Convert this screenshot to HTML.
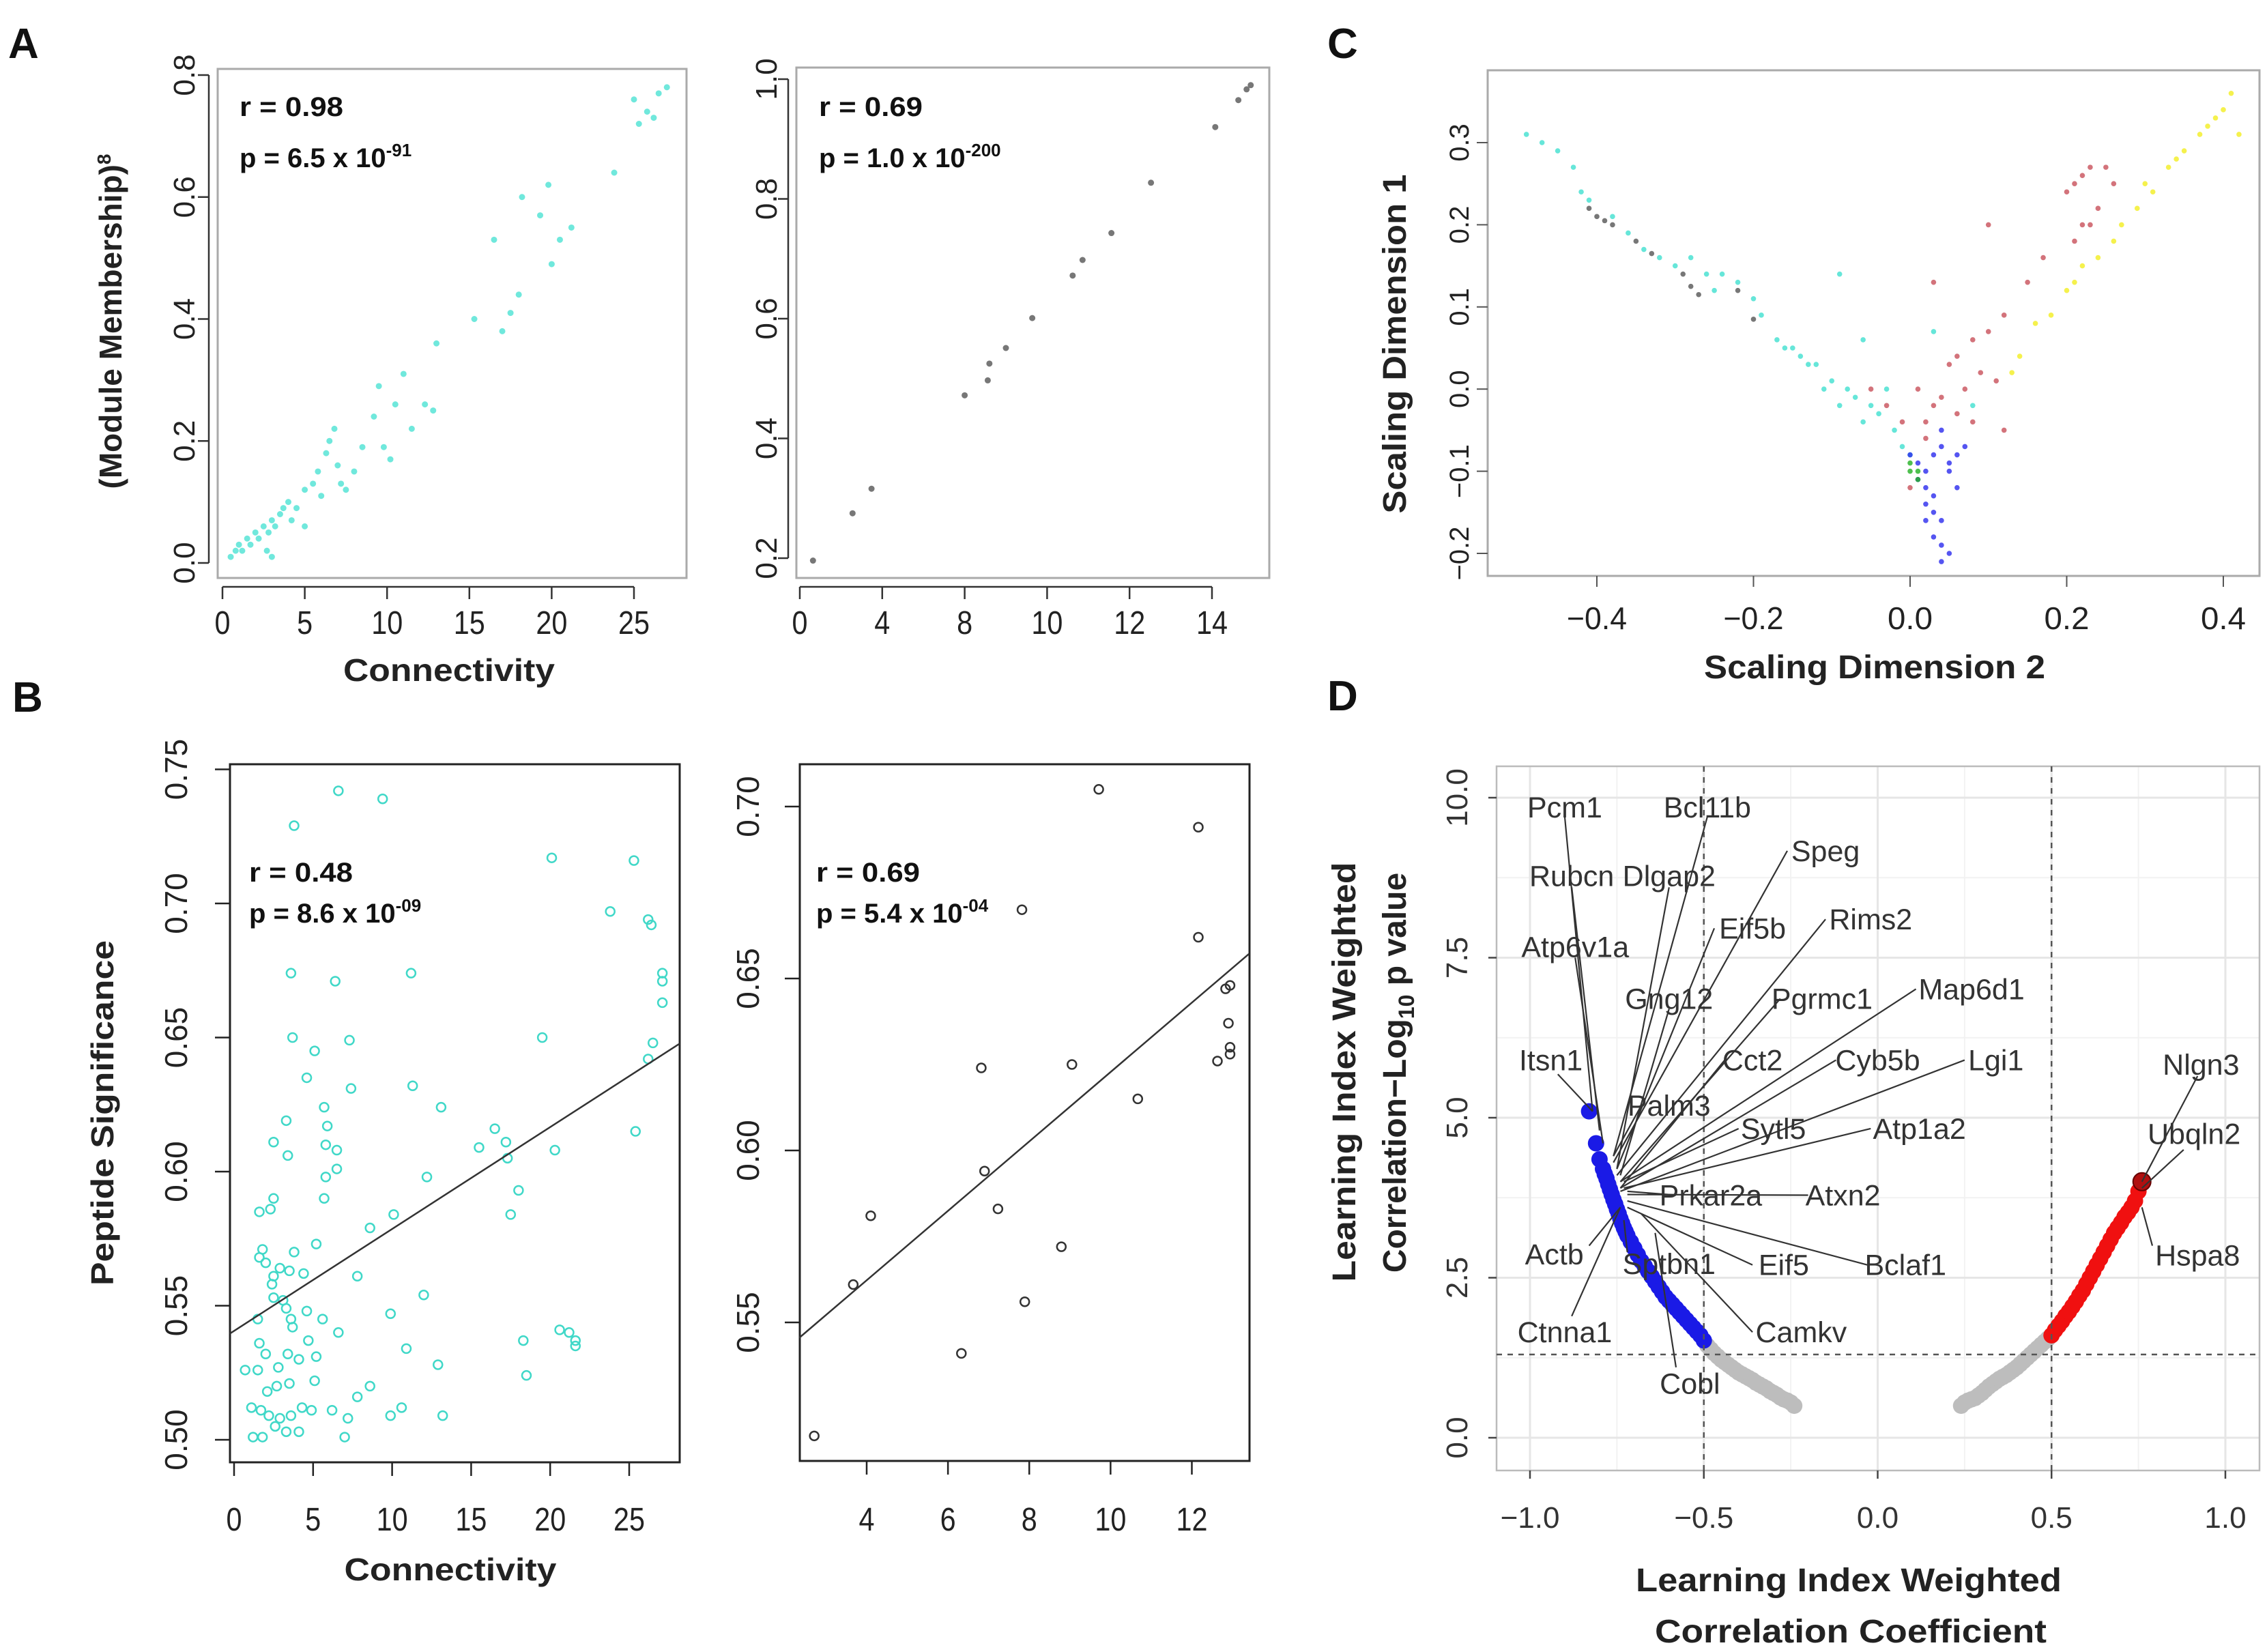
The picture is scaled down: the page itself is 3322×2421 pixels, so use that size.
<!DOCTYPE html>
<html><head><meta charset="utf-8"><style>
html,body{margin:0;padding:0;background:#fff}
svg{display:block}
text{font-family:"Liberation Sans",sans-serif}
</style></head><body>
<svg id="fig" width="3322" height="2421" viewBox="0 0 3322 2421" xmlns="http://www.w3.org/2000/svg">
<rect width="3322" height="2421" fill="#fff"/>
<g id="root"></g>
</svg>
<script>
// ---------- Panel A left ----------
const aLeftX=[0.5,0.8,1.0,1.2,1.5,1.7,2.0,2.2,2.5,2.8,3.0,3.2,3.5,3.7,4.0,3.0,2.7,4.2,4.5,5.0,5.0,5.5,5.8,6.0,6.3,6.5,6.8,7.0,7.2,7.5,8.0,8.5,9.2,9.5,9.8,10.2,10.5,11.0,11.5,12.3,12.8,13.0,15.3,16.5,17.0,17.5,18.0,18.2,19.3,19.8,20.0,20.5,21.2,23.8,25.0,25.3,25.8,26.5,27.0,26.2];
const aLeftY=[0.01,0.02,0.03,0.02,0.04,0.03,0.05,0.04,0.06,0.05,0.07,0.06,0.08,0.09,0.10,0.01,0.02,0.07,0.09,0.06,0.12,0.13,0.15,0.11,0.18,0.20,0.22,0.16,0.13,0.12,0.15,0.19,0.24,0.29,0.19,0.17,0.26,0.31,0.22,0.26,0.25,0.36,0.40,0.53,0.38,0.41,0.44,0.60,0.57,0.62,0.49,0.53,0.55,0.64,0.76,0.72,0.74,0.77,0.78,0.73];
const aLeftXTicks=[0,5,10,15,20,25];
const aLeftYTicks=[0.0,0.2,0.4,0.6,0.8];
// ---------- Panel A right ----------
const aRightX=[0.16,0.64,0.87,2.0,2.28,2.30,2.5,2.82,3.31,3.43,3.78,4.26,5.04,5.32,5.42,5.47];
const aRightY=[0.196,0.275,0.316,0.472,0.497,0.525,0.551,0.601,0.672,0.698,0.743,0.827,0.920,0.965,0.983,0.99];
const aRightXTickLabels=["0","4","8","10","12","14"];
const aRightYTicks=[0.2,0.4,0.6,0.8,1.0];
// ---------- Panel B left ----------
const bLeftX=[6.6,9.4,3.8,20.1,25.3,23.8,26.2,26.4,3.6,6.4,11.2,27.1,27.1,27.1,3.7,7.3,19.5,26.5,5.1,26.2,4.6,7.4,11.3,13.1,5.7,3.3,5.9,16.5,25.4,2.5,5.8,6.5,15.5,17.2,17.3,3.4,20.3,6.5,5.8,12.2,18.0,5.7,2.5,2.3,1.6,10.1,17.5,8.6,3.8,5.2,1.8,1.6,2.0,2.9,2.5,3.5,4.4,7.8,2.4,2.5,3.1,3.3,3.6,3.7,4.6,5.6,1.5,6.6,4.7,1.6,12.0,9.9,20.6,21.2,21.6,21.6,18.3,10.9,3.4,2.0,5.2,4.1,2.8,0.7,1.5,12.9,5.1,2.7,8.6,7.8,18.5,3.5,2.1,1.1,1.7,2.2,2.9,3.6,4.3,4.9,6.2,7.2,9.9,10.6,13.2,3.3,4.1,1.2,1.8,7.0,2.6];
const bLeftY=[.742,.739,.729,.717,.716,.697,.694,.692,.674,.671,.674,.674,.671,.663,.650,.649,.650,.648,.645,.642,.635,.631,.632,.624,.624,.619,.617,.616,.615,.611,.610,.608,.609,.611,.605,.606,.608,.601,.598,.598,.593,.590,.590,.586,.585,.584,.584,.579,.570,.573,.571,.568,.566,.564,.561,.563,.562,.561,.558,.553,.552,.549,.545,.542,.548,.545,.545,.540,.537,.536,.554,.547,.541,.540,.537,.535,.537,.534,.532,.532,.531,.530,.527,.526,.526,.528,.522,.520,.520,.516,.524,.521,.518,.512,.511,.509,.508,.509,.512,.511,.511,.508,.509,.512,.509,.503,.503,.501,.501,.501,.505];
const bLeftFit=[0.5406,0.0038];
const bLeftXTicks=[0,5,10,15,20,25];
const bLeftYTicks=[0.50,0.55,0.60,0.65,0.70,0.75];
// ---------- Panel B right ----------
const bRightX=[2.71,3.67,4.10,6.33,6.82,6.90,7.23,7.89,7.82,8.79,9.05,9.71,10.67,12.16,12.16,12.63,12.83,12.94,12.90,12.94,12.94];
const bRightY=[0.517,0.561,0.581,0.541,0.624,0.594,0.583,0.556,0.670,0.572,0.625,0.705,0.615,0.694,0.662,0.626,0.647,0.648,0.637,0.630,0.628];
const bRightFit=[0.5219,0.01009];
const bRightXTicks=[4,6,8,10,12];
const bRightYTicks=[0.55,0.60,0.65,0.70];
// ---------- Panel C ----------
const cCyanX=[-0.49,-0.47,-0.45,-0.43,-0.42,-0.41,-0.38,-0.36,-0.34,-0.32,-0.30,-0.28,-0.26,-0.25,-0.22,-0.20,-0.19,-0.17,-0.16,-0.14,-0.12,-0.10,-0.09,-0.08,-0.07,-0.06,-0.05,-0.04,-0.03,-0.02,-0.01,0.0,-0.06,0.03,0.08,-0.09,-0.11,-0.13,-0.15,-0.24];
const cCyanY=[0.31,0.30,0.29,0.27,0.24,0.23,0.21,0.19,0.17,0.16,0.15,0.16,0.14,0.12,0.13,0.11,0.09,0.06,0.05,0.04,0.03,0.01,0.14,0.0,-0.01,0.06,-0.02,-0.03,0.0,-0.05,-0.07,-0.08,-0.04,0.07,-0.02,-0.02,0.0,0.03,0.05,0.14];
const cGrayX=[-0.41,-0.40,-0.39,-0.38,-0.35,-0.33,-0.29,-0.28,-0.27,-0.22,-0.20];
const cGrayY=[0.22,0.21,0.205,0.20,0.18,0.165,0.14,0.125,0.115,0.12,0.085];
const cRedX=[0.2,0.21,0.22,0.23,0.25,0.26,0.24,0.22,0.21,0.23,0.10,0.03,0.12,0.1,0.08,0.06,0.05,0.09,0.11,0.07,0.04,0.03,0.02,-0.01,-0.03,-0.05,0.06,0.08,0.01,0.0,0.15,0.17,0.12,0.02];
const cRedY=[0.24,0.25,0.26,0.27,0.27,0.25,0.22,0.20,0.18,0.20,0.20,0.13,0.09,0.07,0.06,0.04,0.03,0.02,0.01,0.0,-0.01,-0.02,-0.04,-0.04,-0.02,0.0,-0.03,-0.04,0.0,-0.12,0.13,0.16,-0.05,-0.06];
const cYellowX=[0.41,0.40,0.39,0.38,0.37,0.35,0.34,0.33,0.31,0.29,0.27,0.26,0.24,0.22,0.21,0.20,0.18,0.16,0.14,0.13,0.42,0.30];
const cYellowY=[0.36,0.34,0.33,0.32,0.31,0.29,0.28,0.27,0.24,0.22,0.20,0.18,0.16,0.15,0.13,0.12,0.09,0.08,0.04,0.02,0.31,0.25];
const cBlueX=[0.0,0.01,0.02,0.03,0.04,0.05,0.06,0.07,0.04,0.02,0.03,0.02,0.03,0.04,0.03,0.04,0.05,0.04,0.06,0.05,0.01,0.02];
const cBlueY=[-0.08,-0.09,-0.1,-0.08,-0.07,-0.09,-0.08,-0.07,-0.05,-0.12,-0.13,-0.14,-0.15,-0.16,-0.18,-0.19,-0.2,-0.21,-0.12,-0.1,-0.11,-0.16];
const cGreenX=[0.01,0.0,0.01,0.0];
const cGreenY=[-0.1,-0.09,-0.11,-0.1];
const cXTicks=[-0.4,-0.2,0.0,0.2,0.4];
const cYTicks=[-0.2,-0.1,0.0,0.1,0.2,0.3];
// ---------- Panel D ----------
const dLeftR=[-0.24,-0.25,-0.26,-0.27,-0.28,-0.29,-0.30,-0.31,-0.32,-0.33,-0.34,-0.35,-0.36,-0.37,-0.38,-0.39,-0.40,-0.41,-0.42,-0.43,-0.44,-0.45,-0.46,-0.47,-0.48,-0.49,-0.50,-0.51,-0.52,-0.53,-0.54,-0.55,-0.56,-0.57,-0.58,-0.59,-0.60,-0.61,-0.62,-0.63,-0.64,-0.65,-0.66,-0.67,-0.68,-0.69,-0.70,-0.71,-0.72,-0.725,-0.73,-0.735,-0.74,-0.745,-0.75,-0.755,-0.76,-0.765,-0.77,-0.775,-0.78,-0.785,-0.79,-0.80,-0.81,-0.83];
const dLeftP=[0.5,0.55,0.58,0.6,0.63,0.67,0.7,0.73,0.77,0.8,0.83,0.86,0.9,0.93,0.96,0.99,1.02,1.06,1.1,1.14,1.18,1.22,1.27,1.32,1.38,1.44,1.52,1.6,1.66,1.72,1.78,1.84,1.9,1.96,2.02,2.08,2.14,2.2,2.28,2.36,2.44,2.52,2.6,2.68,2.76,2.86,2.96,3.06,3.16,3.22,3.28,3.35,3.42,3.5,3.57,3.65,3.72,3.8,3.88,3.96,4.05,4.12,4.2,4.35,4.6,5.1];
const dRightR=[0.24,0.25,0.26,0.27,0.28,0.29,0.30,0.31,0.32,0.33,0.34,0.35,0.36,0.37,0.38,0.39,0.40,0.41,0.42,0.43,0.44,0.45,0.46,0.47,0.48,0.49,0.50,0.51,0.52,0.53,0.54,0.55,0.56,0.57,0.58,0.59,0.60,0.61,0.62,0.63,0.64,0.65,0.66,0.67,0.68,0.69,0.70,0.71,0.72,0.73,0.74,0.75,0.76];
const dRightP=[0.5,0.55,0.58,0.6,0.62,0.66,0.7,0.75,0.8,0.84,0.88,0.92,0.95,0.98,1.02,1.06,1.1,1.15,1.2,1.25,1.3,1.35,1.4,1.45,1.5,1.55,1.6,1.68,1.75,1.82,1.9,1.97,2.05,2.13,2.22,2.3,2.4,2.5,2.6,2.7,2.8,2.9,3.0,3.1,3.2,3.28,3.36,3.45,3.52,3.6,3.7,3.85,4.0];
const dXTicks=[-1.0,-0.5,0.0,0.5,1.0];
const dYTicks=[0.0,2.5,5.0,7.5,10.0];
const dYTickLabels=["0.0","2.5","5.0","7.5","10.0"];
const dRThresh=[-0.5,0.5];
const dPThresh=[1.3];
const dLabelNames=["Pcm1","Bcl11b","Speg","Rubcn","Dlgap2","Eif5b","Rims2","Atp6v1a","Gng12","Pgrmc1","Map6d1","Itsn1","Cct2","Cyb5b","Lgi1","Palm3","Sytl5","Atp1a2","Prkar2a","Atxn2","Actb","Sptbn1","Eif5","Bclaf1","Ctnna1","Camkv","Cobl","Nlgn3","Ubqln2","Hspa8"];
const dLabelR=[-0.90,-0.49,-0.15,-0.88,-0.60,-0.36,-0.02,-0.87,-0.60,-0.16,0.27,-0.94,-0.36,0.00,0.34,-0.60,-0.30,0.12,-0.48,-0.10,-0.93,-0.60,-0.27,0.08,-0.90,-0.22,-0.54,0.93,0.91,0.92];
const dLabelP=[9.85,9.85,9.17,8.78,8.78,7.96,8.10,7.67,6.86,6.86,7.01,5.90,5.90,5.90,5.90,5.19,4.83,4.83,3.79,3.79,2.87,2.72,2.70,2.70,1.65,1.65,0.85,5.83,4.75,2.85];
const dLabelLineFromR=[-0.90,-0.49,-0.26,-0.88,-0.60,-0.47,-0.15,-0.87,-0.60,-0.28,0.11,-0.92,-0.44,-0.12,0.25,-0.68,-0.40,-0.02,-0.58,-0.20,-0.83,-0.72,-0.36,-0.03,-0.88,-0.36,-0.58,0.92,0.88,0.79];
const dLabelLineFromP=[9.70,9.70,9.17,8.60,8.60,7.96,8.10,7.50,6.70,6.86,7.01,5.68,5.90,5.90,5.90,5.19,4.83,4.83,3.79,3.79,3.00,2.90,2.70,2.70,1.90,1.65,1.10,5.65,4.50,3.00];
const dLabelLineToR=[-0.82,-0.76,-0.76,-0.80,-0.75,-0.75,-0.75,-0.79,-0.74,-0.74,-0.74,-0.82,-0.74,-0.74,-0.74,-0.76,-0.73,-0.73,-0.72,-0.72,-0.74,-0.73,-0.72,-0.72,-0.74,-0.68,-0.64,0.76,0.76,0.76];
const dLabelLineToP=[5.1,4.4,4.3,4.8,4.2,4.2,4.1,4.6,4.1,4.0,4.0,5.1,3.9,3.9,3.85,4.4,4.0,3.9,3.85,3.8,3.6,3.4,3.6,3.7,3.6,3.5,3.2,4.0,3.9,3.6];

const NS="http://www.w3.org/2000/svg";
const root=document.getElementById('root');
function mk(tag,attrs,parent){const e=document.createElementNS(NS,tag);for(const k in attrs)e.setAttribute(k,attrs[k]);(parent||root).appendChild(e);return e;}
function txt(s,attrs,parent){const e=mk('text',attrs,parent);e.textContent=s;return e;}
function lin(d0,d1,r0,r1){return v=>r0+(v-d0)*(r1-r0)/(d1-d0);}

[["A",12,85],["B",18,1043],["C",1945,85],["D",1945,1041]].forEach(p=>{
  const t=txt(p[0],{x:p[1],y:p[2],'font-size':62,'font-weight':'bold',fill:'#111'});
  
  
});

function rotText(s,x,y,size,attrs,parent){
  const a=Object.assign({x:0,y:0,'font-size':size,'text-anchor':'middle',fill:'#222',transform:`translate(${x},${y}) rotate(-90)`},attrs||{});
  return txt(s,a,parent);
}
function statText(g,x,y1,y2,rStr,pMant,pExp){
  const t1=txt(rStr,{x:x,y:y1,'font-size':40,'font-weight':'bold',fill:'#111',textLength:rStr.length*19,lengthAdjust:'spacingAndGlyphs'},g);
  
  
  const t2=txt('',{x:x,y:y2,'font-size':40,'font-weight':'bold',fill:'#111'},g);
  
  
  const s1=mk('tspan',{},t2);s1.textContent=pMant;
  const s2=mk('tspan',{dy:-16,'font-size':26},t2);s2.textContent=pExp;
}

// ---------- Panel A left ----------
(function(){
  const g=mk('g',{});
  
  
  const X=lin(0,25,326,929),Y=lin(0,0.8,825,110);
  const box=mk('rect',{x:319,y:101,width:687,height:746,fill:'none',stroke:'#aaa','stroke-width':3},g);
  
  
  mk('line',{x1:X(0),x2:X(25),y1:860,y2:860,stroke:'#333','stroke-width':2.5},g);
  aLeftXTicks.forEach(v=>{mk('line',{x1:X(v),x2:X(v),y1:860,y2:878,stroke:'#333','stroke-width':2.5},g);
    const t=txt(String(v),{x:X(v),y:929,'font-size':48,'text-anchor':'middle',fill:'#222',textLength:String(v).length*23,lengthAdjust:'spacingAndGlyphs'},g);
    
    });
  mk('line',{x1:306,x2:306,y1:Y(0),y2:Y(0.8),stroke:'#333','stroke-width':2.5},g);
  aLeftYTicks.forEach(v=>{mk('line',{x1:306,x2:290,y1:Y(v),y2:Y(v),stroke:'#333','stroke-width':2.5},g);
    const t=rotText(v.toFixed(1),285,Y(v),44,{},g);
    
    });
  aLeftX.forEach((x,i)=>{const c=mk('circle',{cx:X(x),cy:Y(aLeftY[i]),r:4.5,fill:'#40e0d0','fill-opacity':0.75},g);
    
    });
  statText(g,351,170,245,'r = 0.98','p = 6.5 x 10','-91');
  const xt=txt('Connectivity',{x:658,y:998,'font-size':46,'font-weight':'bold','text-anchor':'middle',fill:'#222',textLength:310,lengthAdjust:'spacingAndGlyphs'},g);
  
  
  const yt=rotText('',178,471,46,{'font-weight':'bold'},g);
  
  
  const ys1=mk('tspan',{},yt);ys1.textContent='(Module Membership)';
  const ys2=mk('tspan',{dy:-16,'font-size':28},yt);ys2.textContent='8';
})();

// ---------- Panel A right ----------
(function(){
  const g=mk('g',{});
  
  
  const X=lin(0,5,1172,1776),Y=lin(0.2,1.0,818,116);
  const box=mk('rect',{x:1167,y:99,width:693,height:748,fill:'none',stroke:'#aaa','stroke-width':3},g);
  
  
  mk('line',{x1:X(0),x2:X(5),y1:860,y2:860,stroke:'#333','stroke-width':2.5},g);
  aRightXTickLabels.forEach((s,i)=>{mk('line',{x1:X(i),x2:X(i),y1:860,y2:878,stroke:'#333','stroke-width':2.5},g);
    const t=txt(s,{x:X(i),y:929,'font-size':48,'text-anchor':'middle',fill:'#222',textLength:s.length*23,lengthAdjust:'spacingAndGlyphs'},g);
    
    });
  mk('line',{x1:1155,x2:1155,y1:Y(0.2),y2:Y(1.0),stroke:'#333','stroke-width':2.5},g);
  aRightYTicks.forEach(v=>{mk('line',{x1:1155,x2:1140,y1:Y(v),y2:Y(v),stroke:'#333','stroke-width':2.5},g);
    const t=rotText(v.toFixed(1),1138,Y(v),44,{},g);
    
    });
  aRightX.forEach((x,i)=>{const c=mk('circle',{cx:X(x),cy:Y(aRightY[i]),r:4.5,fill:'#777'},g);
    
    });
  statText(g,1200,170,245,'r = 0.69','p = 1.0 x 10','-200');
})();

// ---------- Panel B left ----------
(function(){
  const g=mk('g',{});
  
  
  const X=lin(0,25,343,922),Y=lin(0.5,0.75,2110,1127.5);
  const box=mk('rect',{x:337,y:1120,width:659,height:1023,fill:'none',stroke:'#222','stroke-width':3},g);
  
  
  bLeftXTicks.forEach(v=>{mk('line',{x1:X(v),x2:X(v),y1:2143,y2:2163,stroke:'#222','stroke-width':2.5},g);
    const t=txt(String(v),{x:X(v),y:2243,'font-size':48,'text-anchor':'middle',fill:'#222',textLength:String(v).length*23,lengthAdjust:'spacingAndGlyphs'},g);
    
    });
  bLeftYTicks.forEach(v=>{mk('line',{x1:337,x2:315,y1:Y(v),y2:Y(v),stroke:'#222','stroke-width':2.5},g);
    const t=rotText(v.toFixed(2),274,Y(v),46,{},g);
    
    });
  bLeftX.forEach((x,i)=>{const c=mk('circle',{cx:X(x),cy:Y(bLeftY[i]),r:6.5,fill:'none',stroke:'#40d8c8','stroke-width':2.5},g);
    
    });
  const x0=-0.26,x1=28.2;
  const fl=mk('line',{x1:X(x0),y1:Y(bLeftFit[0]+bLeftFit[1]*x0),x2:X(x1),y2:Y(bLeftFit[0]+bLeftFit[1]*x1),stroke:'#333','stroke-width':2.5},g);
  
  
  statText(g,365,1292,1352,'r = 0.48','p = 8.6 x 10','-09');
  const xt=txt('Connectivity',{x:660,y:2316,'font-size':46,'font-weight':'bold','text-anchor':'middle',fill:'#222',textLength:311,lengthAdjust:'spacingAndGlyphs'},g);
  
  
  const yt=rotText('Peptide Significance',166,1631,46,{'font-weight':'bold',textLength:506,lengthAdjust:'spacingAndGlyphs'},g);
  
  
})();

// ---------- Panel B right ----------
(function(){
  const g=mk('g',{});
  
  
  const X=lin(4,12,1270,1746.5),Y=lin(0.55,0.70,1938,1182);
  const box=mk('rect',{x:1172,y:1120,width:659,height:1021,fill:'none',stroke:'#222','stroke-width':3},g);
  
  
  bRightXTicks.forEach(v=>{mk('line',{x1:X(v),x2:X(v),y1:2141,y2:2161,stroke:'#222','stroke-width':2.5},g);
    const t=txt(String(v),{x:X(v),y:2243,'font-size':48,'text-anchor':'middle',fill:'#222',textLength:String(v).length*23,lengthAdjust:'spacingAndGlyphs'},g);
    
    });
  bRightYTicks.forEach(v=>{mk('line',{x1:1172,x2:1150,y1:Y(v),y2:Y(v),stroke:'#222','stroke-width':2.5},g);
    const t=rotText(v.toFixed(2),1112,Y(v),46,{},g);
    
    });
  bRightX.forEach((x,i)=>{const c=mk('circle',{cx:X(x),cy:Y(bRightY[i]),r:6.5,fill:'none',stroke:'#333','stroke-width':2.5},g);
    
    });
  const x0=2.34,x1=13.41;
  const fl=mk('line',{x1:X(x0),y1:Y(bRightFit[0]+bRightFit[1]*x0),x2:X(x1),y2:Y(bRightFit[0]+bRightFit[1]*x1),stroke:'#333','stroke-width':2.5},g);
  
  
  statText(g,1196,1292,1352,'r = 0.69','p = 5.4 x 10','-04');
})();

// ---------- Panel C ----------
(function(){
  const g=mk('g',{});
  
  
  const X=lin(-0.4,0.4,2340,3258),Y=lin(0.3,-0.2,209,811);
  const box=mk('rect',{x:2180,y:103,width:1131,height:741,fill:'none',stroke:'#aaa','stroke-width':3},g);
  
  
  cXTicks.forEach(v=>{mk('line',{x1:X(v),x2:X(v),y1:844,y2:860,stroke:'#555','stroke-width':2},g);
    const s=v.toFixed(1).replace('-','\u2212');
    const t=txt(s,{x:X(v),y:922,'font-size':46,'text-anchor':'middle',fill:'#222',textLength:s.length*22,lengthAdjust:'spacingAndGlyphs'},g);
    
    });
  cYTicks.forEach(v=>{mk('line',{x1:2180,x2:2164,y1:Y(v),y2:Y(v),stroke:'#555','stroke-width':2},g);
    const t=rotText(v.toFixed(1).replace('-','\u2212'),2152,Y(v),40,{},g);
    
    });
  const sets=[[cCyanX,cCyanY,'#40e0d0','module-turquoise'],[cGrayX,cGrayY,'#555','module-grey'],[cRedX,cRedY,'#c8505a','module-red'],[cYellowX,cYellowY,'#f2ee20','module-yellow'],[cBlueX,cBlueY,'#2a2aee','module-blue'],[cGreenX,cGreenY,'#22b022','module-green']];
  sets.forEach(s=>{const sg=mk('g',{},g);
    
    
    s[0].forEach((x,i)=>{const c=mk('circle',{cx:X(x),cy:Y(s[1][i]),r:3.8,fill:s[2],'fill-opacity':0.8},sg);
      
      });});
  const xt=txt('Scaling Dimension 2',{x:2747,y:994,'font-size':48,'font-weight':'bold','text-anchor':'middle',fill:'#222',textLength:500,lengthAdjust:'spacingAndGlyphs'},g);
  
  
  const yt=rotText('Scaling Dimension 1',2060,504,48,{'font-weight':'bold',textLength:497,lengthAdjust:'spacingAndGlyphs'},g);
  
  
})();

// ---------- Panel D ----------
(function(){
  const g=mk('g',{});
  
  
  const X=lin(-1,1,2242,3261),Y=lin(0,10,2107,1169);
  mk('rect',{x:2193,y:1123,width:1118,height:1032,fill:'#fff'},g);
  [-1.25,1.25,3.75,6.25,8.75].forEach(v=>{if(Y(v)>1123&&Y(v)<2155)mk('line',{x1:2193,x2:3311,y1:Y(v),y2:Y(v),stroke:'#f2f2f2','stroke-width':2},g);});
  [-0.75,-0.25,0.25,0.75].forEach(v=>mk('line',{x1:X(v),x2:X(v),y1:1123,y2:2155,stroke:'#f2f2f2','stroke-width':2},g));
  dYTicks.forEach(v=>mk('line',{x1:2193,x2:3311,y1:Y(v),y2:Y(v),stroke:'#e6e6e6','stroke-width':3},g));
  dXTicks.forEach(v=>mk('line',{x1:X(v),x2:X(v),y1:1123,y2:2155,stroke:'#e6e6e6','stroke-width':3},g));
  const box=mk('rect',{x:2193,y:1123,width:1118,height:1032,fill:'none',stroke:'#bbb','stroke-width':2.5},g);
  
  
  dXTicks.forEach(v=>{mk('line',{x1:X(v),x2:X(v),y1:2155,y2:2167,stroke:'#444','stroke-width':2.5},g);
    const s=v.toFixed(1).replace('-','\u2212');
    const t=txt(s,{x:X(v),y:2239,'font-size':44,'text-anchor':'middle',fill:'#333'},g);
    
    });
  dYTicks.forEach((v,i)=>{mk('line',{x1:2193,x2:2181,y1:Y(v),y2:Y(v),stroke:'#444','stroke-width':2.5},g);
    const t=rotText(dYTickLabels[i],2150,Y(v),44,{fill:'#333'},g);
    
    });
  const pg=mk('g',{},g);
  
  
  function pcol(r,p){return (p<dPThresh[0]+0.2||Math.abs(r)<0.5)?'#bdbdbd':(r<0?'#1a1ae6':'#f01010');}
  dLeftR.forEach((r,i)=>{const c=mk('circle',{cx:X(r),cy:Y(dLeftP[i]),r:12,fill:pcol(r,dLeftP[i])},pg);
    
    });
  dRightR.forEach((r,i)=>{const c=mk('circle',{cx:X(r),cy:Y(dRightP[i]),r:12,fill:pcol(r,dRightP[i])},pg);
    
    });
  const hp=mk('circle',{cx:X(0.76),cy:Y(4.0),r:13,fill:'#b01010',stroke:'#600','stroke-width':2},g);
  
  
  dRThresh.forEach(v=>{const l=mk('line',{x1:X(v),x2:X(v),y1:1123,y2:2155,stroke:'#555','stroke-width':2.5,'stroke-dasharray':'8,8'},g);
    
    });
  dPThresh.forEach(v=>{const l=mk('line',{x1:2193,x2:3311,y1:Y(v),y2:Y(v),stroke:'#555','stroke-width':2.5,'stroke-dasharray':'8,8'},g);
    
    });
  const lg=mk('g',{},g);
  
  
  dLabelNames.forEach((n,i)=>{
    const l=mk('line',{x1:X(dLabelLineFromR[i]),y1:Y(dLabelLineFromP[i]),x2:X(dLabelLineToR[i]),y2:Y(dLabelLineToP[i]),stroke:'#333','stroke-width':2.2},lg);
    
    
  });
  dLabelNames.forEach((n,i)=>{
    const t=txt(n,{x:X(dLabelR[i]),y:Y(dLabelP[i])+15,'font-size':43,'text-anchor':'middle',fill:'#333'},lg);
    
    
  });
  const x1=txt('Learning Index Weighted',{x:2709,y:2332,'font-size':48,'font-weight':'bold','text-anchor':'middle',fill:'#222',textLength:624,lengthAdjust:'spacingAndGlyphs'},g);
  
  
  const x2=txt('Correlation Coefficient',{x:2712,y:2407,'font-size':48,'font-weight':'bold','text-anchor':'middle',fill:'#222',textLength:574,lengthAdjust:'spacingAndGlyphs'},g);
  
  
  const y1=rotText('Learning Index Weighted',1986,1571,48,{'font-weight':'bold',textLength:615,lengthAdjust:'spacingAndGlyphs'},g);
  
  
  const y2=rotText('',2060,1572,48,{'font-weight':'bold'},g);
  
  
  const a=mk('tspan',{},y2);a.textContent='Correlation\u2212Log';
  const b=mk('tspan',{dy:12,'font-size':32},y2);b.textContent='10';
  const c=mk('tspan',{dy:-12},y2);c.textContent=' p value';
})();
</script>
</body></html>
